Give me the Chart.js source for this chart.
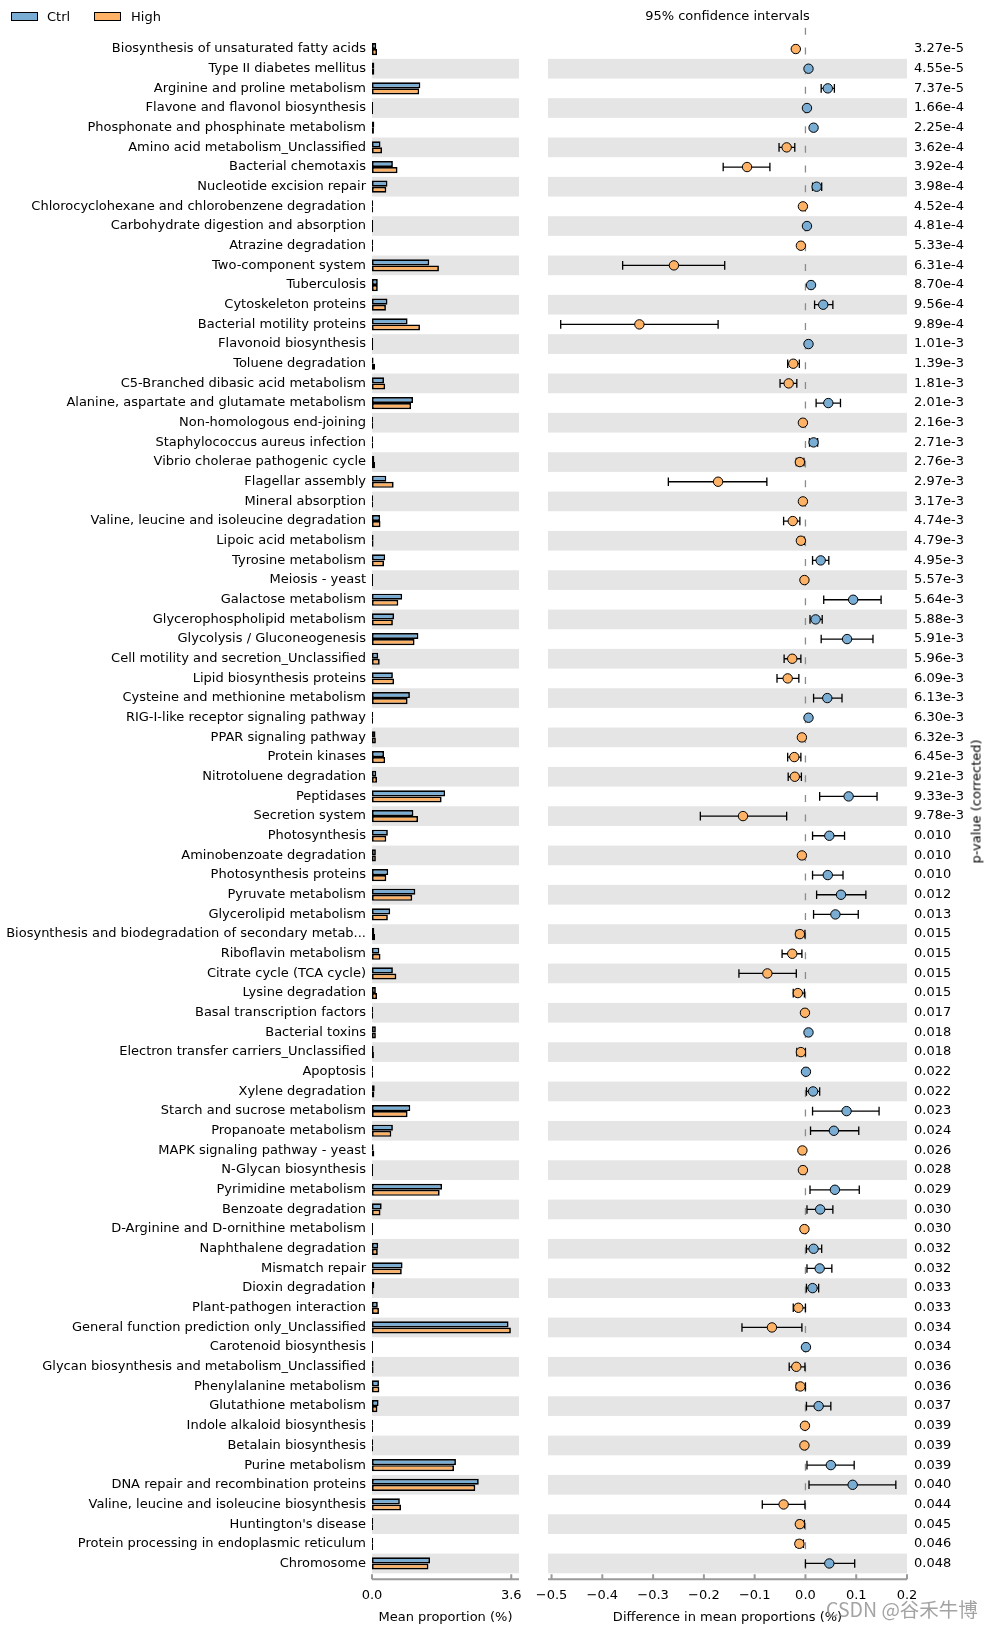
<!DOCTYPE html>
<html>
<head>
<meta charset="utf-8">
<script src="https://cdn.jsdelivr.net/npm/chart.js@4.4.0/dist/chart.umd.min.js"></script>
<style>
    body {
        margin: 0;
        background: #fff;
        width: 996px;
        height: 1630px;
        position: relative;
        overflow: hidden;
        font-family: "DejaVu Sans", sans-serif;
        color: #000;
    }
    canvas { position: absolute; top: 0; }
    #propChart { left: 0; }
    #diffChart { left: 530px; }
    .txt { position: absolute; font-size: 13px; line-height: 15px; white-space: nowrap; z-index: 2; }
    .swatch { position: absolute; top: 12px; width: 27px; height: 9px; box-sizing: border-box; border: 1.5px solid #000; z-index: 2; }
</style>
</head>
<body>
<canvas id="propChart" width="540" height="1630" style="width:540px;height:1630px"></canvas>
<canvas id="diffChart" width="466" height="1630" style="width:466px;height:1630px"></canvas>

<div class="swatch" style="left:11px;background:#7aadd4"></div>
<div class="txt" style="left:47px;top:9px">Ctrl</div>
<div class="swatch" style="left:94px;background:#fdb266"></div>
<div class="txt" style="left:131px;top:9px">High</div>
<div class="txt" style="left:548px;width:359px;text-align:center;top:8px">95% confidence intervals</div>
<div class="txt" style="left:916px;top:796px;width:120px;text-align:center;transform:rotate(-90deg);transform-origin:60px 7.5px">p-value (corrected)</div>
<div class="txt" style="left:826px;top:1597px;font-size:19.5px;line-height:23px;color:rgba(140,140,140,0.8);font-family:'Noto Sans CJK SC','DejaVu Sans',sans-serif">CSDN @谷禾牛博</div>

<script>
const names = [
    'Biosynthesis of unsaturated fatty acids', 'Type II diabetes mellitus', 'Arginine and proline metabolism',
    'Flavone and flavonol biosynthesis', 'Phosphonate and phosphinate metabolism', 'Amino acid metabolism_Unclassified',
    'Bacterial chemotaxis', 'Nucleotide excision repair', 'Chlorocyclohexane and chlorobenzene degradation',
    'Carbohydrate digestion and absorption', 'Atrazine degradation', 'Two-component system', 'Tuberculosis',
    'Cytoskeleton proteins', 'Bacterial motility proteins', 'Flavonoid biosynthesis', 'Toluene degradation',
    'C5-Branched dibasic acid metabolism', 'Alanine, aspartate and glutamate metabolism', 'Non-homologous end-joining',
    'Staphylococcus aureus infection', 'Vibrio cholerae pathogenic cycle', 'Flagellar assembly', 'Mineral absorption',
    'Valine, leucine and isoleucine degradation', 'Lipoic acid metabolism', 'Tyrosine metabolism', 'Meiosis - yeast',
    'Galactose metabolism', 'Glycerophospholipid metabolism', 'Glycolysis / Gluconeogenesis',
    'Cell motility and secretion_Unclassified', 'Lipid biosynthesis proteins', 'Cysteine and methionine metabolism',
    'RIG-I-like receptor signaling pathway', 'PPAR signaling pathway', 'Protein kinases', 'Nitrotoluene degradation',
    'Peptidases', 'Secretion system', 'Photosynthesis', 'Aminobenzoate degradation', 'Photosynthesis proteins',
    'Pyruvate metabolism', 'Glycerolipid metabolism', 'Biosynthesis and biodegradation of secondary metab...',
    'Riboflavin metabolism', 'Citrate cycle (TCA cycle)', 'Lysine degradation', 'Basal transcription factors',
    'Bacterial toxins', 'Electron transfer carriers_Unclassified', 'Apoptosis', 'Xylene degradation',
    'Starch and sucrose metabolism', 'Propanoate metabolism', 'MAPK signaling pathway - yeast', 'N-Glycan biosynthesis',
    'Pyrimidine metabolism', 'Benzoate degradation', 'D-Arginine and D-ornithine metabolism', 'Naphthalene degradation',
    'Mismatch repair', 'Dioxin degradation', 'Plant-pathogen interaction', 'General function prediction only_Unclassified',
    'Carotenoid biosynthesis', 'Glycan biosynthesis and metabolism_Unclassified', 'Phenylalanine metabolism',
    'Glutathione metabolism', 'Indole alkaloid biosynthesis', 'Betalain biosynthesis', 'Purine metabolism',
    'DNA repair and recombination proteins', 'Valine, leucine and isoleucine biosynthesis', "Huntington's disease",
    'Protein processing in endoplasmic reticulum', 'Chromosome'
];

const ctrlMean = [
    0.11, 0.06, 1.25, 0.03, 0.06, 0.22, 0.54, 0.40, 0.03, 0.03,
    0.03, 1.48, 0.15, 0.40, 0.92, 0.03, 0.04, 0.31, 1.06, 0.03,
    0.03, 0.06, 0.37, 0.03, 0.21, 0.04, 0.34, 0.03, 0.78, 0.57,
    1.20, 0.16, 0.54, 0.98, 0.03, 0.09, 0.31, 0.11, 1.89, 1.07,
    0.41, 0.10, 0.42, 1.12, 0.47, 0.06, 0.19, 0.54, 0.10, 0.03,
    0.10, 0.04, 0.03, 0.07, 0.99, 0.54, 0.04, 0.03, 1.81, 0.25,
    0.03, 0.16, 0.79, 0.06, 0.15, 3.53, 0.03, 0.04, 0.18, 0.17,
    0.03, 0.03, 2.17, 2.76, 0.72, 0.03, 0.03, 1.50
];

const highMean = [
    0.13, 0.06, 1.22, 0.03, 0.05, 0.26, 0.66, 0.37, 0.03, 0.03,
    0.03, 1.73, 0.15, 0.36, 1.24, 0.03, 0.08, 0.34, 1.01, 0.03,
    0.03, 0.08, 0.56, 0.03, 0.22, 0.04, 0.31, 0.03, 0.68, 0.54,
    1.10, 0.20, 0.57, 0.92, 0.03, 0.10, 0.34, 0.13, 1.80, 1.19,
    0.37, 0.10, 0.37, 1.04, 0.41, 0.08, 0.22, 0.63, 0.13, 0.03,
    0.10, 0.05, 0.03, 0.06, 0.92, 0.50, 0.06, 0.03, 1.75, 0.22,
    0.03, 0.15, 0.77, 0.04, 0.18, 3.59, 0.03, 0.04, 0.19, 0.14,
    0.03, 0.03, 2.12, 2.67, 0.75, 0.03, 0.03, 1.46
];

const diffMean = [
    -0.019, 0.006, 0.044, 0.003, 0.016, -0.037, -0.115, 0.022, -0.005, 0.003,
    -0.009, -0.259, 0.011, 0.035, -0.327, 0.006, -0.024, -0.033, 0.045, -0.005,
    0.016, -0.011, -0.172, -0.005, -0.025, -0.009, 0.030, -0.002, 0.094, 0.020,
    0.082, -0.026, -0.035, 0.043, 0.006, -0.007, -0.022, -0.021, 0.085, -0.123,
    0.047, -0.007, 0.044, 0.070, 0.059, -0.011, -0.026, -0.075, -0.015, -0.001,
    0.006, -0.009, 0.001, 0.015, 0.081, 0.056, -0.006, -0.005, 0.058, 0.029,
    -0.002, 0.016, 0.028, 0.014, -0.014, -0.066, 0.001, -0.018, -0.010, 0.026,
    -0.001, -0.002, 0.050, 0.093, -0.043, -0.011, -0.012, 0.047
];

const ciLow = [
    -0.023, 0.003, 0.031, 0.000, 0.012, -0.052, -0.162, 0.014, -0.009, 0.000,
    -0.013, -0.360, 0.007, 0.018, -0.482, 0.002, -0.035, -0.050, 0.021, -0.009,
    0.008, -0.018, -0.270, -0.009, -0.043, -0.014, 0.014, -0.006, 0.036, 0.009,
    0.031, -0.042, -0.056, 0.016, 0.002, -0.011, -0.035, -0.034, 0.028, -0.207,
    0.014, -0.011, 0.014, 0.022, 0.016, -0.018, -0.046, -0.131, -0.024, -0.005,
    0.002, -0.017, -0.003, 0.002, 0.014, 0.010, -0.010, -0.009, 0.009, 0.003,
    -0.006, 0.002, 0.003, 0.002, -0.024, -0.125, -0.003, -0.032, -0.018, 0.002,
    -0.005, -0.006, 0.003, 0.007, -0.085, -0.016, -0.018, 0.000
];

const ciHigh = [
    -0.015, 0.009, 0.057, 0.006, 0.020, -0.021, -0.070, 0.032, -0.001, 0.006,
    -0.005, -0.159, 0.015, 0.054, -0.172, 0.010, -0.012, -0.017, 0.069, -0.001,
    0.024, -0.003, -0.076, -0.001, -0.011, -0.002, 0.046, 0.001, 0.149, 0.033,
    0.133, -0.009, -0.013, 0.072, 0.010, -0.003, -0.009, -0.008, 0.141, -0.037,
    0.077, -0.003, 0.074, 0.119, 0.104, -0.001, -0.007, -0.018, -0.002, 0.003,
    0.010, 0.000, 0.005, 0.028, 0.145, 0.105, -0.002, -0.001, 0.106, 0.054,
    0.002, 0.032, 0.052, 0.026, 0.000, -0.007, 0.005, -0.001, 0.000, 0.050,
    0.003, 0.002, 0.096, 0.178, -0.001, -0.002, -0.004, 0.097
];

const pValues = [
    '3.27e-5', '4.55e-5', '7.37e-5', '1.66e-4', '2.25e-4', '3.62e-4', '3.92e-4', '3.98e-4', '4.52e-4', '4.81e-4',
    '5.33e-4', '6.31e-4', '8.70e-4', '9.56e-4', '9.89e-4', '1.01e-3', '1.39e-3', '1.81e-3', '2.01e-3', '2.16e-3',
    '2.71e-3', '2.76e-3', '2.97e-3', '3.17e-3', '4.74e-3', '4.79e-3', '4.95e-3', '5.57e-3', '5.64e-3', '5.88e-3',
    '5.91e-3', '5.96e-3', '6.09e-3', '6.13e-3', '6.30e-3', '6.32e-3', '6.45e-3', '9.21e-3', '9.33e-3', '9.78e-3',
    '0.010', '0.010', '0.010', '0.012', '0.013', '0.015', '0.015', '0.015', '0.015', '0.017',
    '0.018', '0.018', '0.022', '0.022', '0.023', '0.024', '0.026', '0.028', '0.029', '0.030',
    '0.030', '0.032', '0.032', '0.033', '0.033', '0.034', '0.034', '0.036', '0.036', '0.037',
    '0.039', '0.039', '0.039', '0.040', '0.044', '0.045', '0.046', '0.048'
];

const propTicks = [0, 3.6];
const diffTicks = [-0.5, -0.4, -0.3, -0.2, -0.1, 0, 0.1, 0.2];

const ctrlColor = '#7aadd4';
const highColor = '#fdb266';
const bandColor = '#e5e5e5';

Chart.defaults.font.family = "'DejaVu Sans', sans-serif";
Chart.defaults.font.size = 13;
Chart.defaults.color = '#000';

const AREA_TOP = 39.2;
const AXIS_H = 56.7;

// grey band behind every second row
const rowBands = {
    id: 'rowBands',
    beforeDatasetsDraw(chart) {
        const {ctx, chartArea, scales} = chart;
        const y = scales.y;
        const h = (y.bottom - y.top) / names.length;
        ctx.save();
        ctx.fillStyle = bandColor;
        names.forEach((n, i) => {
            if (i % 2 === 1) {
                const c = y.getPixelForValue(i);
                ctx.fillRect(chartArea.left, c - h / 2, chartArea.right - chartArea.left, h);
            }
        });
        ctx.restore();
    }
};

// matplotlib-like bottom spine with inward ticks, a little below the rows
const bottomAxis = {
    id: 'bottomAxis',
    afterDraw(chart) {
        const {ctx, chartArea, scales} = chart;
        const x = scales.x;
        const y0 = chartArea.bottom + 6;
        ctx.save();
        ctx.strokeStyle = '#9a9a9a';
        ctx.lineWidth = 2;
        ctx.beginPath();
        ctx.moveTo(chartArea.left, y0);
        ctx.lineTo(chartArea.right, y0);
        x.ticks.forEach(t => {
            const px = x.getPixelForValue(t.value);
            ctx.moveTo(px, y0);
            ctx.lineTo(px, y0 - 5);
        });
        ctx.stroke();
        ctx.restore();
    }
};

const zeroLine = {
    id: 'zeroLine',
    beforeDatasetsDraw(chart) {
        const {ctx, chartArea, scales} = chart;
        const h = (scales.y.bottom - scales.y.top) / names.length;
        const px = scales.x.getPixelForValue(0);
        const start = scales.y.getPixelForValue(0) - h - 1.5;
        ctx.save();
        ctx.strokeStyle = '#8c8c8c';
        ctx.lineWidth = 1.3;
        ctx.setLineDash([7, h - 7]);
        ctx.beginPath();
        ctx.moveTo(px, start);
        ctx.lineTo(px, chartArea.bottom);
        ctx.stroke();
        ctx.restore();
    }
};

const errorBars = {
    id: 'errorBars',
    beforeDatasetsDraw(chart) {
        const {ctx, scales} = chart;
        ctx.save();
        ctx.strokeStyle = '#000';
        ctx.lineWidth = 1.3;
        ctx.beginPath();
        names.forEach((n, i) => {
            const cy = scales.y.getPixelForValue(i);
            const x1 = scales.x.getPixelForValue(ciLow[i]);
            const x2 = scales.x.getPixelForValue(ciHigh[i]);
            ctx.moveTo(x1, cy);
            ctx.lineTo(x2, cy);
            ctx.moveTo(x1, cy - 4.3);
            ctx.lineTo(x1, cy + 4.3);
            ctx.moveTo(x2, cy - 4.3);
            ctx.lineTo(x2, cy + 4.3);
        });
        ctx.stroke();
        ctx.restore();
    }
};

function fixedTicks(values) {
    return s => { s.ticks = values.map(v => ({value: v})); };
}

function fmtTick(v) {
    const t = Math.abs(v).toFixed(1);
    return v < -1e-9 ? '\u2212' + t : t;
}

const xAxisFit = s => {
    s.height = AXIS_H;
    s.paddingLeft = 0;
    s.paddingRight = 0;
};

new Chart(document.getElementById('propChart'), {
    type: 'bar',
    data: {
        labels: names,
        datasets: [
            {label: 'Ctrl', data: ctrlMean, backgroundColor: ctrlColor},
            {label: 'High', data: highMean, backgroundColor: highColor}
        ]
    },
    options: {
        indexAxis: 'y',
        responsive: false,
        animation: false,
        layout: {padding: {top: AREA_TOP, right: 21, left: 0, bottom: 0}},
        datasets: {
            bar: {
                borderColor: '#000',
                borderWidth: 1.7,
                borderSkipped: false,
                categoryPercentage: 0.62,
                barPercentage: 1.0
            }
        },
        plugins: {legend: {display: false}, tooltip: {enabled: false}},
        scales: {
            y: {
                grid: {display: false, drawTicks: false},
                border: {display: false},
                ticks: {autoSkip: false, padding: 6},
                afterFit: s => { s.width = 372; }
            },
            x: {
                min: 0,
                max: 3.8,
                grid: {display: false, drawTicks: false},
                border: {display: false},
                afterBuildTicks: fixedTicks(propTicks),
                ticks: {padding: 15, callback: v => fmtTick(v)},
                title: {display: true, text: 'Mean proportion (%)', padding: {top: 0, bottom: 5}},
                afterFit: xAxisFit
            }
        }
    },
    plugins: [rowBands, bottomAxis]
});

new Chart(document.getElementById('diffChart'), {
    type: 'scatter',
    data: {
        labels: names,
        datasets: [{
            label: 'diff',
            data: names.map((n, i) => ({x: diffMean[i], y: n})),
            pointRadius: 4.7,
            pointBorderWidth: 1,
            pointBorderColor: '#000',
            pointBackgroundColor: diffMean.map(d => d > 0 ? ctrlColor : highColor)
        }]
    },
    options: {
        responsive: false,
        animation: false,
        layout: {padding: {top: AREA_TOP, left: 18, right: 0, bottom: 0}},
        plugins: {legend: {display: false}, tooltip: {enabled: false}},
        scales: {
            y: {
                type: 'category',
                labels: names,
                position: 'right',
                offset: true,
                grid: {display: false, drawTicks: false},
                border: {display: false},
                ticks: {autoSkip: false, padding: 7, callback: (v, i) => pValues[i]},
                afterFit: s => { s.width = 89; }
            },
            x: {
                type: 'linear',
                min: -0.507,
                max: 0.2,
                grid: {display: false, drawTicks: false},
                border: {display: false},
                afterBuildTicks: fixedTicks(diffTicks),
                ticks: {padding: 15, callback: v => fmtTick(v)},
                title: {display: true, text: 'Difference in mean proportions (%)', padding: {top: 0, bottom: 5}},
                afterFit: xAxisFit
            }
        }
    },
    plugins: [rowBands, zeroLine, errorBars, bottomAxis]
});
</script>
</body>
</html>
